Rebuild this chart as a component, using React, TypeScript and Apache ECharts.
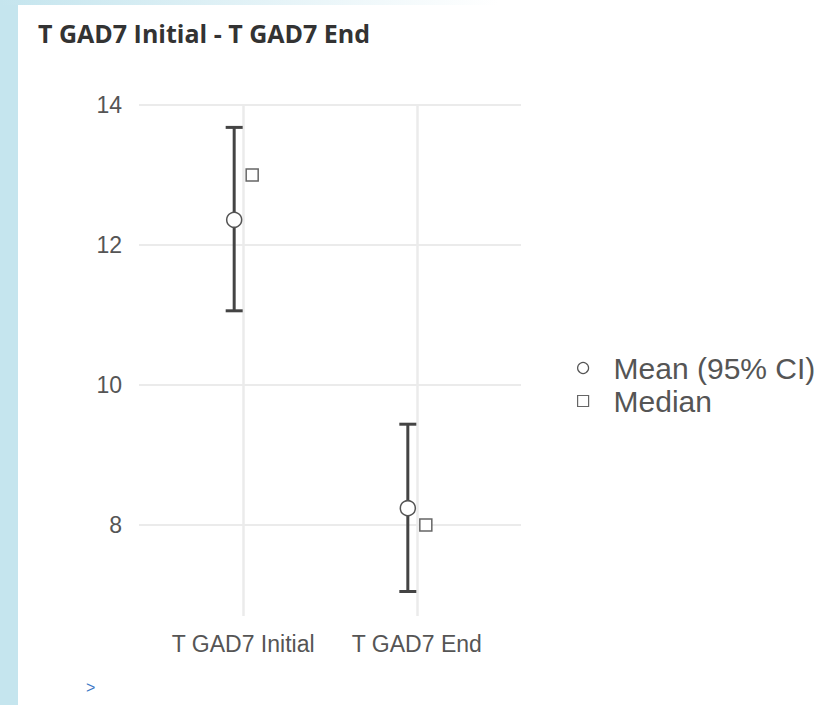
import React, { useEffect, useRef } from 'react';
import * as echarts from 'echarts';

const titleText = 'T GAD7 Initial - T GAD7 End';
const categories = ['T GAD7 Initial', 'T GAD7 End'];
const meanValues = [12.36, 8.24];
const ciLower = [11.06, 7.05];
const ciUpper = [13.68, 9.44];
const medianValues = [13.0, 8.0];
const yTicks = [8, 10, 12, 14];
const seriesNames = ['Mean (95% CI)', 'Median'];

export default function App() {
  const ref = useRef<HTMLDivElement>(null);
  useEffect(() => {
    const chart = echarts.init(ref.current as HTMLDivElement, null, { renderer: 'svg' });
    const catIdx = categories.map((_, i) => i);
    const meanData = catIdx.map((i) => [i, meanValues[i]]);
    const medianData = catIdx.map((i) => [i, medianValues[i]]);
    const ciData = catIdx.map((i) => [i, ciLower[i], ciUpper[i]]);
    const gridColor = '#ebebeb';
    const labelColor = '#555555';
    chart.setOption({
      animation: false,
      backgroundColor: '#ffffff',
      title: {
        text: titleText,
        left: 38,
        top: 20,
        padding: 0,
        textStyle: { fontFamily: 'Open Sans', fontWeight: 'bold', fontSize: 25, color: '#333333' },
      },
      graphic: [
        { type: 'rect', left: 0, top: 0, shape: { width: 18, height: 705 }, style: { fill: '#c5e5ee' }, silent: true },
        {
          type: 'rect', left: 0, top: 0, shape: { width: 831, height: 5 },
          style: {
            fill: new echarts.graphic.LinearGradient(0, 0, 1, 0, [
              { offset: 0, color: '#c5e5ee' },
              { offset: 0.6, color: '#ffffff' },
              { offset: 1, color: '#ffffff' },
            ]),
          },
          silent: true,
        },
        { type: 'text', left: 86, top: 679, style: { text: '>', fontSize: 16, fontFamily: 'Liberation Sans', fill: '#3d78c6' } },
      ],
      legend: {
        orient: 'vertical',
        left: 577,
        top: 353,
        itemWidth: 11,
        itemHeight: 11,
        itemGap: 3,
        padding: 0,
        data: [
          { name: seriesNames[0], icon: 'circle' },
          { name: seriesNames[1], icon: 'rect' },
        ],
        itemStyle: { borderWidth: 1.2 },
        textStyle: { fontFamily: 'Liberation Sans', fontSize: 30, color: labelColor, padding: [0, 0, 0, 20] },
      },
      grid: { left: 139, right: 310, top: 105, bottom: 89 },
      xAxis: {
        type: 'value',
        min: -0.6,
        max: 1.6,
        axisLine: { show: false },
        axisTick: { show: false, customValues: catIdx },
        axisLabel: {
          customValues: catIdx,
          formatter: (v: number) => categories[Math.round(v)] ?? '',
          fontFamily: 'Liberation Sans',
          fontSize: 23,
          color: labelColor,
          margin: 16,
        },
        splitLine: { show: true, lineStyle: { color: gridColor, width: 2.5 } },
      },
      yAxis: {
        type: 'value',
        min: 6.7,
        max: 14,
        axisLine: { show: false },
        axisTick: { show: false, customValues: yTicks },
        axisLabel: {
          customValues: yTicks,
          fontFamily: 'Liberation Sans',
          fontSize: 23,
          color: labelColor,
          margin: 17,
        },
        splitLine: { show: true, lineStyle: { color: gridColor, width: 2 } },
      },
      series: [
        {
          type: 'custom',
          name: 'CI',
          z: 2,
          data: ciData,
          encode: { x: 0, y: [1, 2] },
          renderItem: (params: any, api: any) => {
            const x = api.value(0);
            const lo = api.coord([x, api.value(1)]);
            const hi = api.coord([x, api.value(2)]);
            const cx = lo[0] - 9;
            const half = 8.5;
            const style = { stroke: '#444444', lineWidth: 3 };
            return {
              type: 'group',
              children: [
                { type: 'line', shape: { x1: cx, y1: lo[1], x2: cx, y2: hi[1] }, style },
                { type: 'line', shape: { x1: cx - half, y1: hi[1], x2: cx + half, y2: hi[1] }, style },
                { type: 'line', shape: { x1: cx - half, y1: lo[1], x2: cx + half, y2: lo[1] }, style },
              ],
            };
          },
        },
        {
          type: 'scatter',
          name: seriesNames[0],
          z: 3,
          data: meanData,
          symbol: 'circle',
          symbolSize: 15,
          symbolOffset: [-9, 0],
          itemStyle: { color: '#ffffff', borderColor: '#555555', borderWidth: 1.5, opacity: 1 },
        },
        {
          type: 'scatter',
          name: seriesNames[1],
          z: 3,
          data: medianData,
          symbol: 'rect',
          symbolSize: 12,
          symbolOffset: [9, 0],
          itemStyle: { color: '#ffffff', borderColor: '#666666', borderWidth: 1.5, opacity: 1 },
        },
      ],
    });
    return () => chart.dispose();
  }, []);
  return <div ref={ref} style={{ position: 'fixed', left: 0, top: 0, width: 831, height: 705 }} />;
}
